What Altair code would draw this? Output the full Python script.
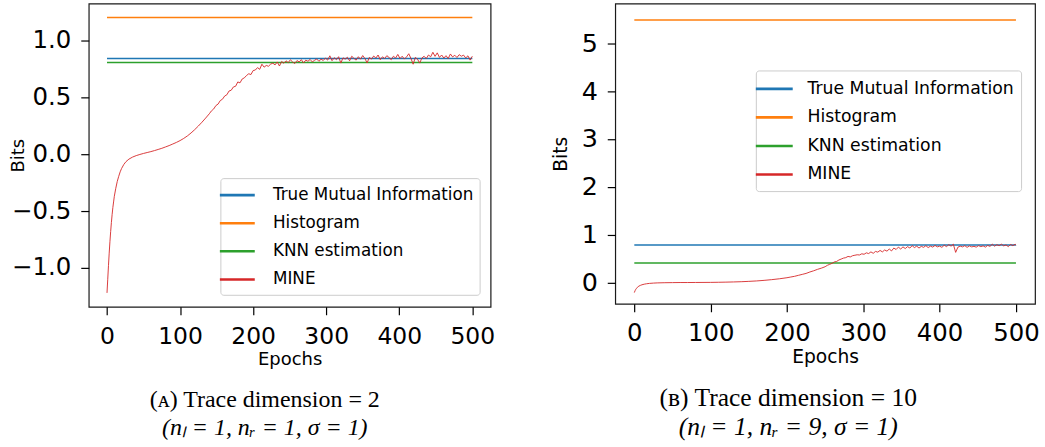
import altair as alt
import pandas as pd

series = ["True Mutual Information", "Histogram", "KNN estimation", "MINE"]
colors = ["#1f77b4", "#ff7f0e", "#2ca02c", "#d62728"]
x_ticks = [0, 100, 200, 300, 400, 500]

# ---------- panel A ----------
a_const = {"True Mutual Information": 0.843, "Histogram": 1.203, "KNN estimation": 0.807}
a_epochs = [0, 1, 2, 3, 4, 5, 6, 7, 8, 9, 10, 12, 14, 16, 18, 20, 23, 26, 30, 35, 40, 45, 50, 55,
            60, 65, 70, 75, 80, 85, 90, 95, 100, 105, 110, 115, 120, 125, 130, 135, 140, 143, 146,
            149, 152, 155, 158, 161, 164, 167, 170, 173, 176, 179, 182, 185, 188, 191, 194, 197,
            200, 203, 206, 209, 212, 215, 218, 221, 224, 227, 230, 233, 236, 239, 242, 245, 248,
            251, 254, 257, 260, 263, 266, 269, 272, 275, 278, 281, 284, 287, 290, 293, 296, 299,
            302, 305, 308, 311, 314, 317, 320, 323, 326, 329, 332, 335, 338, 341, 344, 347, 350,
            353, 356, 359, 362, 365, 368, 371, 374, 377, 380, 383, 386, 389, 392, 395, 398, 401,
            404, 407, 410, 413, 416, 419, 422, 425, 428, 431, 434, 437, 440, 443, 446, 449, 452,
            455, 458, 461, 464, 467, 470, 473, 476, 479, 482, 485, 488, 491, 494, 497, 500]
a_mine = [-1.22, -1.10, -0.98, -0.87, -0.77, -0.68, -0.60, -0.53, -0.47, -0.42, -0.37, -0.30,
          -0.24, -0.195, -0.155, -0.125, -0.09, -0.065, -0.043, -0.025, -0.012, -0.002, 0.007,
          0.015, 0.023, 0.032, 0.042, 0.052, 0.064, 0.076, 0.09, 0.104, 0.12, 0.139, 0.161, 0.187,
          0.216, 0.248, 0.282, 0.318, 0.356, 0.382, 0.398, 0.428, 0.441, 0.472, 0.484, 0.512,
          0.523, 0.556, 0.563, 0.592, 0.598, 0.636, 0.628, 0.662, 0.672, 0.693, 0.708, 0.701,
          0.736, 0.741, 0.762, 0.747, 0.792, 0.766, 0.781, 0.774, 0.793, 0.801, 0.786, 0.812,
          0.776, 0.816, 0.801, 0.822, 0.806, 0.831, 0.812, 0.798, 0.824, 0.812, 0.832, 0.803,
          0.828, 0.818, 0.834, 0.812, 0.826, 0.838, 0.818, 0.836, 0.825, 0.846, 0.828, 0.866,
          0.823, 0.849, 0.832, 0.858, 0.802, 0.848, 0.837, 0.853, 0.822, 0.862, 0.843, 0.828,
          0.858, 0.836, 0.868, 0.842, 0.803, 0.852, 0.837, 0.864, 0.846, 0.873, 0.832, 0.857,
          0.842, 0.867, 0.851, 0.832, 0.862, 0.846, 0.878, 0.842, 0.862, 0.837, 0.857, 0.884,
          0.843, 0.792, 0.852, 0.836, 0.802, 0.847, 0.862, 0.842, 0.873, 0.857, 0.897, 0.861,
          0.892, 0.852, 0.873, 0.846, 0.867, 0.842, 0.882, 0.856, 0.871, 0.851, 0.876, 0.862,
          0.872, 0.847, 0.866, 0.828, 0.862]
a_y_ticks = [-1.0, -0.5, 0.0, 0.5, 1.0]

# ---------- panel B ----------
b_const = {"True Mutual Information": 0.785, "Histogram": 5.487, "KNN estimation": 0.41}
b_epochs = [0, 1, 2, 3, 4, 6, 8, 10, 13, 16, 20, 25, 30, 40, 50, 60, 70, 80, 90, 100, 110, 120,
            130, 140, 150, 160, 170, 180, 190, 200, 205, 210, 215, 220, 225, 230, 235, 240, 245,
            250, 253, 256, 259, 262, 265, 268, 271, 274, 277, 280, 283, 286, 289, 292, 295, 298,
            301, 304, 307, 310, 313, 316, 319, 322, 325, 328, 331, 334, 337, 340, 343, 346, 349,
            352, 355, 358, 361, 364, 367, 370, 373, 376, 379, 382, 385, 388, 391, 394, 397, 400,
            403, 406, 409, 412, 415, 418, 421, 424, 427, 430, 433, 436, 439, 442, 445, 448, 451,
            454, 457, 460, 463, 466, 469, 472, 475, 478, 481, 484, 487, 490, 493, 496, 499, 500]
b_mine = [-0.21, -0.17, -0.14, -0.12, -0.10, -0.075, -0.06, -0.047, -0.035, -0.026, -0.018,
          -0.012, -0.008, -0.004, -0.002, 0.0, 0.0, 0.001, 0.002, 0.003, 0.005, 0.008, 0.012,
          0.017, 0.024, 0.033, 0.045, 0.06, 0.078, 0.10, 0.115, 0.13, 0.15, 0.17, 0.19, 0.22,
          0.245, 0.275, 0.30, 0.33, 0.36, 0.38, 0.40, 0.43, 0.44, 0.47, 0.49, 0.51, 0.52, 0.545,
          0.535, 0.56, 0.57, 0.58, 0.575, 0.60, 0.59, 0.62, 0.605, 0.64, 0.61, 0.65, 0.635, 0.67,
          0.64, 0.68, 0.655, 0.70, 0.66, 0.72, 0.69, 0.74, 0.70, 0.745, 0.71, 0.75, 0.72, 0.77,
          0.73, 0.76, 0.72, 0.755, 0.735, 0.77, 0.73, 0.76, 0.74, 0.775, 0.745, 0.76, 0.735, 0.78,
          0.75, 0.79, 0.76, 0.80, 0.63, 0.74, 0.76, 0.745, 0.77, 0.735, 0.765, 0.745, 0.755, 0.74,
          0.77, 0.75, 0.765, 0.74, 0.775, 0.755, 0.80, 0.76, 0.79, 0.77, 0.80, 0.765, 0.785, 0.75,
          0.795, 0.77, 0.80, 0.78]
b_y_ticks = [0, 1, 2, 3, 4, 5]

a_caption = ["(ᴀ) Trace dimension = 2", "(nₗ = 1, nᵣ = 1, σ = 1)"]
b_caption = ["(ʙ) Trace dimension = 10", "(nₗ = 1, nᵣ = 9, σ = 1)"]

FONT = "DejaVu Sans"


def panel(const, epochs, mine, y_domain, y_ticks, y_fmt, width, height, s,
          legend_xy, sym_len, label_font, label_gap, row_pad, leg_pad, title_x, caption,
          cap_dx, cap_size):
    names = [k for k in const for _ in range(2)]
    const_df = pd.DataFrame({
        "epoch": [0, 500] * len(const),
        "value": [const[k] for k in names],
        "series": names,
    })
    mine_df = pd.DataFrame({"epoch": epochs, "value": mine, "series": "MINE"})

    r = sym_len / 2.0
    color = alt.Color(
        "series:N",
        scale=alt.Scale(domain=series, range=colors),
        legend=alt.Legend(
            title=None, orient="none", legendX=legend_xy[0], legendY=legend_xy[1],
            symbolType="M-2,0H2", symbolSize=r * r, symbolStrokeWidth=2.6,
            labelFont=FONT, labelFontSize=label_font, labelColor="#000",
            labelOffset=r / 2 + label_gap, rowPadding=row_pad,
            padding=leg_pad, fillColor="rgba(255,255,255,0.8)", strokeColor="#cccccc",
            cornerRadius=3, labelLimit=400,
        ),
    )
    common = dict(grid=False, domain=False, tickColor="#000", tickWidth=1.2,
                  labelFont=FONT, titleFont=FONT, labelColor="#000", titleColor="#000",
                  titleFontWeight="normal", tickSize=8, labelPadding=10,
                  titleFontSize=18 * s)
    x = alt.X("epoch:Q",
              scale=alt.Scale(domain=[-25, 525], nice=False, zero=False),
              axis=alt.Axis(values=x_ticks, format="d", title="Epochs",
                            titlePadding=2, labelFlush=False, labelFontSize=23.5 * s,
                            **common))
    minus_expr = ("(datum.value < 0 ? '\u2212' : '') + format(abs(datum.value), '%s')"
                  % y_fmt)
    y = alt.Y("value:Q",
              scale=alt.Scale(domain=y_domain, nice=False, zero=False),
              axis=alt.Axis(values=y_ticks, title="Bits", labelExpr=minus_expr,
                            labelFontSize=24.5 * s,
                            titleAngle=270, titleX=title_x, titleY=height / 2,
                            titleAlign="center", titleBaseline="middle", **common))
    lines = alt.Chart(const_df).mark_line(strokeWidth=1.5).encode(
        x=x, y=y, color=color, detail="series:N")
    mline = alt.Chart(mine_df).mark_line(strokeWidth=0.9).encode(x=x, y=y, color=color)
    return alt.layer(lines, mline).properties(
        width=width, height=height,
        title=alt.TitleParams(
            text=caption[0], subtitle=caption[1], orient="bottom", anchor="middle",
            frame="group", dx=cap_dx, offset=20,
            font="Liberation Serif", fontSize=cap_size, fontWeight="normal", color="#000",
            subtitleFont="Liberation Serif", subtitleFontSize=cap_size,
            subtitleFontStyle="italic", subtitleColor="#000", subtitlePadding=4,
        ),
    )


left = panel(a_const, a_epochs, a_mine, [-1.342, 1.325], a_y_ticks, ".1f", 403, 304, 1.0,
             (132, 175), 35, 16.8, 16.5, 28.7 - 17.5 - 3.0, 6.5, -70, a_caption, -25, 24)
right = panel(b_const, b_epochs, b_mine, [-0.444, 5.827], b_y_ticks, "d", 421, 301, 1.04,
              (141, 67), 37, 17.3, 13, 28.7 - 18.5 - 1.6, 7.5, -55, b_caption, -37, 25.6)

chart = alt.hconcat(left, right, spacing=55).resolve_scale(
    x="independent", y="independent"
).resolve_legend(color="independent").properties(
    padding={"left": 9, "top": 2, "right": 5, "bottom": 5},
    background="white",
).configure_view(
    stroke="#1a1a1a", strokeWidth=1.2
).configure_axis(
    grid=False, domain=False
)

chart.save("out.html", embed_options={"renderer": "svg", "actions": False})
